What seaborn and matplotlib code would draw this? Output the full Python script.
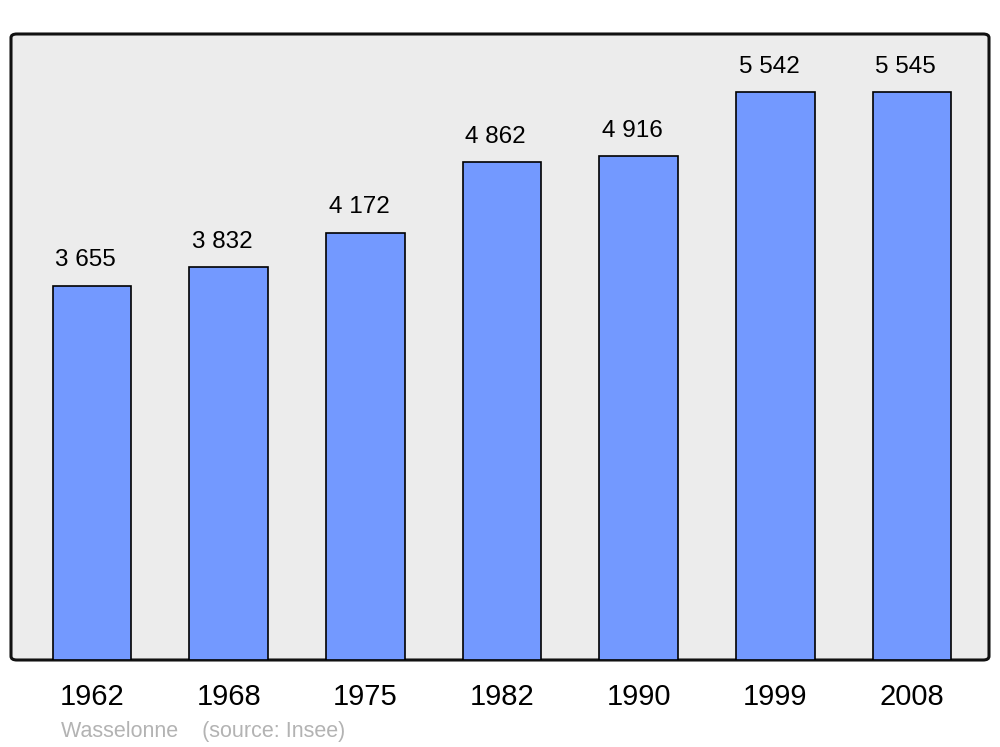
import matplotlib
matplotlib.use("Agg")
import matplotlib.pyplot as plt
import seaborn as sns
import pandas as pd
from matplotlib.patches import FancyBboxPatch

annees = ["1962", "1968", "1975", "1982", "1990", "1999", "2008"]
population = [3655, 3832, 4172, 4862, 4916, 5542, 5545]
etiquettes = ["3 655", "3 832", "4 172", "4 862", "4 916", "5 542", "5 545"]

df = pd.DataFrame({"annee": annees, "pop": population})

sns.set_style("white")
plt.rcParams["font.family"] = ["Liberation Sans", "DejaVu Sans"]

fig = plt.figure(figsize=(10, 7.47), dpi=100)
ax = fig.add_axes([0.011, 1 - 660 / 747, 0.978, 626 / 747])
ax.set_facecolor("none")

# fond arrondi
fond = FancyBboxPatch((0, 0), 1, 1, boxstyle="round,pad=0,rounding_size=0.006",
                      transform=ax.transAxes, facecolor="#ececec",
                      edgecolor="#111111", linewidth=2.2, zorder=0, clip_on=False)
ax.add_patch(fond)

sns.barplot(data=df, x="annee", y="pop", color="#7399ff", saturation=1,
            width=0.575, edgecolor="black", linewidth=1.2, ax=ax, zorder=2)

for i, (v, t) in enumerate(zip(population, etiquettes)):
    ax.annotate(t, (i, v), xytext=(-4.5, 14), textcoords="offset points",
                ha="center", va="baseline", fontsize=17.5, color="black")

ax.set_xlim(-0.593, 6.563)
ax.set_ylim(0, 6111)
ax.set_yticks([])
ax.set_xlabel("")
ax.set_ylabel("")
for s in ax.spines.values():
    s.set_visible(False)
ax.tick_params(axis="x", length=0, pad=16.5, labelsize=21, labelcolor="black")

fig.text(0.061, 1 - 731 / 747, "Wasselonne    (source: Insee)", color="#b3b3b3",
         fontsize=15.5, ha="left", va="center")

fig.savefig("out.png", dpi=100)
